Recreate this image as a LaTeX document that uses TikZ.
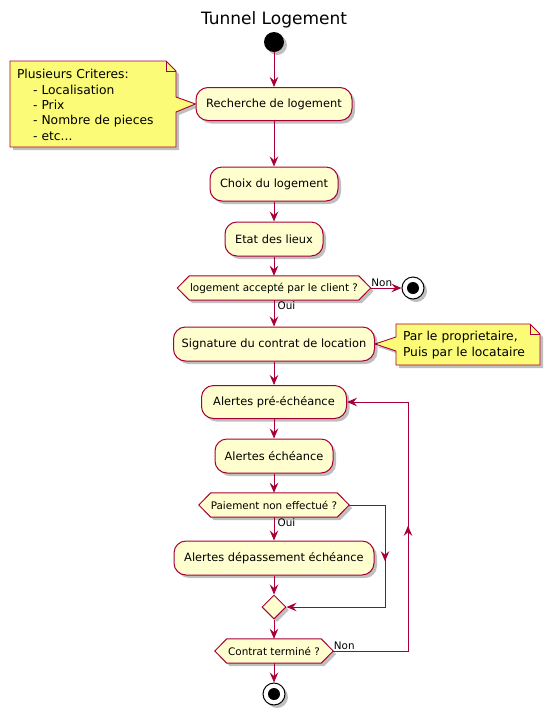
\documentclass[tikz,border=0pt]{standalone}
\usepackage{fontspec}
\setmainfont{DejaVu Sans}
\usetikzlibrary{arrows.meta,shadows,backgrounds,decorations.markings,shapes.geometric}
\definecolor{umlred}{HTML}{A80036}
\definecolor{umlfill}{HTML}{FEFECE}
\definecolor{notefill}{HTML}{FBFB77}
\newcommand\hexbg[1]{%
  \begin{scope}[on background layer]
  \draw[hex] ([xshift=12pt]#1.north west) -- ([xshift=-12pt]#1.north east) -- (#1.east)
    -- ([xshift=-12pt]#1.south east) -- ([xshift=12pt]#1.south west) -- (#1.west) -- cycle;
  \end{scope}}
\begin{document}
\begin{tikzpicture}[x=1pt,y=-1pt,
  shad/.style={drop shadow={shadow xshift=3pt,shadow yshift=-3pt,opacity=0.25,fill=black}},
  act/.style={draw=umlred,fill=umlfill,line width=1pt,rounded corners=12pt,
    inner sep=0pt,align=center,font=\fontsize{11.4}{13}\selectfont,shad},
  dectext/.style={inner sep=0pt,minimum height=24pt,font=\fontsize{10.4}{12}\selectfont},
  hex/.style={draw=umlred,fill=umlfill,line width=1pt,shad},
  notebox/.style={draw=umlred,fill=notefill,line width=0.9pt,shad},
  notetext/.style={inner sep=0pt,align=left,font=\fontsize{12.3}{15.3}\selectfont},
  lbl/.style={inner sep=0.5pt,font=\fontsize{10.4}{12}\selectfont},
  conn/.style={draw=umlred,line width=1pt,-{Stealth[length=10pt,width=8.5pt,inset=3.5pt]}}
]
\useasboundingbox (0,0) rectangle (550,721);

% title
\node[font=\fontsize{17}{20}\selectfont] (title) at (274,20) {Tunnel Logement};

% start
\node[circle,fill=black,minimum size=20pt,inner sep=0pt,shad] (start) at (274,42) {};

% activities
\node[act,minimum width=156pt,minimum height=33pt] (r1) at (274,104) {Recherche de logement};
\node[act,minimum width=128pt,minimum height=34pt] (c1) at (274,184) {Choix du logement};
\node[act,minimum width=98pt,minimum height=34pt] (e1) at (274,239) {Etat des lieux};
\node[dectext,minimum width=193pt] (d1) at (274,288) {logement accepté par le client ?};
\hexbg{d1}
\node[circle,draw=black,fill=white,line width=1pt,minimum size=22pt,inner sep=0pt,shad] (end1) at (413,288) {};
\fill[black] (end1.center) circle (6pt);
\node[act,minimum width=201pt,minimum height=34pt] (s1) at (274,344) {Signature du contrat de location};
\node[act,minimum width=145pt,minimum height=33pt] (a1) at (274,402) {Alertes pré-échéance};
\node[act,minimum width=118pt,minimum height=34pt] (a2) at (274,456) {Alertes échéance};
\node[dectext,minimum width=150pt] (d2) at (274,505) {Paiement non effectué ?};
\hexbg{d2}
\node[act,minimum width=200pt,minimum height=34pt] (a3) at (274,558) {Alertes dépassement échéance};
\node[diamond,draw=umlred,fill=umlfill,line width=1pt,minimum width=24pt,minimum height=24pt,inner sep=0pt,aspect=1,shad] (m1) at (274,607) {};
\node[dectext,minimum width=118pt] (d3) at (274,651) {Contrat terminé ?};
\hexbg{d3}
\node[circle,draw=black,fill=white,line width=1pt,minimum size=22pt,inner sep=0pt,shad] (end2) at (274,694) {};
\fill[black] (end2.center) circle (6pt);

% notes
\node[notetext,minimum width=152pt,minimum height=86pt,text width=152pt] (n1) at (93,105)
  {Plusieurs Criteres:\\\hspace*{16pt}- Localisation\\\hspace*{16pt}- Prix\\\hspace*{16pt}- Nombre de pieces\\\hspace*{16pt}- etc...};
\begin{scope}[on background layer]
\draw[notebox] (10,61) -- (166,61) -- (176,71) -- (176,97) -- (r1.west) -- (176,112)
  -- (176,147) -- (10,147) -- cycle;
\draw[draw=umlred,line width=0.9pt] (166,61) -- (166,71) -- (176,71);
\end{scope}
\node[notetext,text width=132pt] (n2) at (469,345) {Par le proprietaire,\\Puis par le locataire};
\begin{scope}[on background layer]
\draw[notebox] (396,324) -- (530,324) -- (540,334) -- (540,365) -- (396,365) -- (396,351)
  -- (s1.east) -- (396,337) -- cycle;
\draw[draw=umlred,line width=0.9pt] (530,324) -- (530,334) -- (540,334);
\end{scope}

% connectors
\draw[conn] (start) -- (r1);
\draw[conn] (r1) -- (c1);
\draw[conn] (c1) -- (e1);
\draw[conn] (e1) -- (d1);
\draw[conn] (d1.east) -- (end1);
\node[lbl,anchor=south west] (non1) at ([xshift=0pt,yshift=1pt]d1.east) {Non};
\draw[conn] (d1) -- (s1);
\node[lbl,anchor=north west] (oui1) at ([xshift=3pt,yshift=-1pt]d1.south) {Oui};
\draw[conn] (s1) -- (a1);
\draw[conn] (a1) -- (a2);
\draw[conn] (a2) -- (d2);
\draw[conn] (d2) -- (a3);
\node[lbl,anchor=north west] (oui2) at ([xshift=3pt,yshift=-1pt]d2.south) {Oui};
\draw[conn] (a3) -- (m1);
\draw[conn] (m1) -- (d3);
\draw[conn] (d3) -- (end2);
\coordinate (k1) at (385,505);
\coordinate (k2) at (385,607);
\draw[conn,postaction={decorate},decoration={markings,mark=at position 92pt with {\arrow{Stealth[length=10pt,width=8.5pt,inset=3.5pt]}}}]
  (d2.east) -- (k1) -- (k2) -- (m1.east);
\coordinate (k3) at (408,651);
\coordinate (k4) at (408,402);
\draw[conn,postaction={decorate},decoration={markings,mark=at position 200pt with {\arrow{Stealth[length=10pt,width=8.5pt,inset=3.5pt]}}}]
  (d3.east) -- (k3) -- (k4) -- (a1.east);
\node[lbl,anchor=south west] (non2) at ([yshift=1pt]d3.east) {Non};
\end{tikzpicture}
\end{document}
